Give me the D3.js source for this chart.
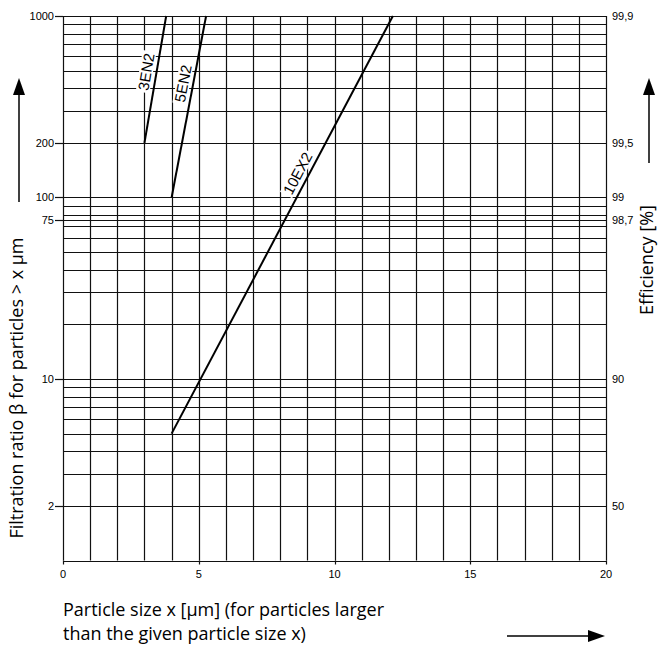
<!DOCTYPE html>
<html><head><meta charset="utf-8">
<script src="https://cdn.jsdelivr.net/npm/d3@7"></script>
<style>body{margin:0;background:#fff}svg{display:block}</style>
</head><body>
<svg id="c" width="659" height="646"></svg>
<script>
const xTicks = [0, 5, 10, 15, 20];
const xGrid = d3.range(0, 21, 1);
const yGrid = [1,2,3,4,5,6,7,8,9,10,20,30,40,50,60,70,75,80,90,100,200,300,400,500,600,700,800,900,1000];
const yTickValues = [1000, 200, 100, 75, 10, 2];
const yTickLabels = ["1000", "200", "100", "75", "10", "2"];
const effLabels = ["99,9", "99,5", "99", "98,7", "90", "50"];
const seriesNames = ["3EN2", "5EN2", "10EX2"];
const series3EN2 = [[3, 200], [3.8, 1000]];
const series5EN2 = [[4, 100], [5.27, 1000]];
const series10EX2 = [[4, 5], [12.15, 1000]];
const labelPos = [[3.06, 493], [4.42, 425], [8.64, 136]];

const svg = d3.select("#c");
const x = d3.scaleLinear().domain([0, 20]).range([63, 606]);
const y = d3.scaleLog().domain([1, 1000]).range([560.5, 16]);
const tickFont = "Liberation Sans, Arial, sans-serif";
const titleFont = "Open Sans, Noto Sans, sans-serif";

const g = svg.append("g");
// grid
g.selectAll("line.h").data(yGrid).join("line")
  .attr("x1", x(0)).attr("x2", x(20))
  .attr("y1", d => Math.round(y(d)) + 0.5).attr("y2", d => Math.round(y(d)) + 0.5)
  .attr("stroke", "#111").attr("stroke-width", 1.2);
g.selectAll("line.v").data(xGrid).join("line")
  .attr("y1", y(1)).attr("y2", y(1000))
  .attr("x1", d => Math.round(x(d)) + 0.5).attr("x2", d => Math.round(x(d)) + 0.5)
  .attr("stroke", "#111").attr("stroke-width", 1.2);

// left ticks + labels
g.selectAll("line.lt").data(yTickValues).join("line")
  .attr("x1", x(0) - 8).attr("x2", x(0))
  .attr("y1", d => Math.round(y(d)) + 0.5).attr("y2", d => Math.round(y(d)) + 0.5)
  .attr("stroke", "#111").attr("stroke-width", 1.2);
g.selectAll("text.lt").data(yTickValues).join("text")
  .attr("x", 54).attr("y", d => y(d)).attr("dy", "0.35em")
  .attr("text-anchor", "end").attr("font-family", tickFont).attr("font-size", 11)
  .text((d, i) => yTickLabels[i]);
// right labels
g.selectAll("text.rt").data(yTickValues).join("text")
  .attr("x", 612).attr("y", d => y(d)).attr("dy", "0.35em")
  .attr("text-anchor", "start").attr("font-family", tickFont).attr("font-size", 11)
  .text((d, i) => effLabels[i]);
// x ticks
g.selectAll("line.xt").data(xTicks).join("line")
  .attr("x1", d => Math.round(x(d)) + 0.5).attr("x2", d => Math.round(x(d)) + 0.5)
  .attr("y1", y(1)).attr("y2", y(1) + 4)
  .attr("stroke", "#111").attr("stroke-width", 1.2);
g.selectAll("text.xt").data(xTicks).join("text")
  .attr("x", d => x(d)).attr("y", 578)
  .attr("text-anchor", "middle").attr("font-family", tickFont).attr("font-size", 11)
  .text(d => d);

// curves
const line = d3.line().x(d => x(d[0])).y(d => y(d[1]));
const allSeries = [series3EN2, series5EN2, series10EX2];
g.selectAll("path.s").data(allSeries).join("path")
  .attr("d", line).attr("fill", "none").attr("stroke", "#000").attr("stroke-width", 2);

// series labels rotated along lines
allSeries.forEach((s, i) => {
  const x0 = x(s[0][0]), y0 = y(s[0][1]), x1 = x(s[1][0]), y1 = y(s[1][1]);
  const ang = Math.atan2(y1 - y0, x1 - x0) * 180 / Math.PI;
  const lg = g.append("g")
    .attr("transform", `translate(${x(labelPos[i][0])},${y(labelPos[i][1])}) rotate(${ang})`);
  const fs = 15;
  const t = lg.append("text").attr("text-anchor", "middle").attr("dy", "0.36em")
    .attr("font-family", tickFont).attr("font-size", fs).text(seriesNames[i]);
  const bb = t.node().getBBox();
  lg.insert("rect", "text").attr("x", bb.x - 2).attr("y", -fs * 0.36 - 1.5)
    .attr("width", bb.width + 4).attr("height", fs * 0.72 + 3).attr("fill", "#fff");
});

// titles
svg.append("text").attr("transform", "translate(23,388) rotate(-90)")
  .attr("text-anchor", "middle").attr("font-family", titleFont).attr("font-size", 18)
  .text("Filtration ratio β for particles > x µm");
svg.append("text").attr("transform", "translate(653,260) rotate(-90)")
  .attr("text-anchor", "middle").attr("font-family", titleFont).attr("font-size", 18)
  .text("Efficiency [%]");
const bt = svg.append("text").attr("font-family", titleFont).attr("font-size", 18);
bt.append("tspan").attr("x", 63).attr("y", 616).text("Particle size x [µm] (for particles larger");
bt.append("tspan").attr("x", 63).attr("y", 640).text("than the given particle size x)");

// arrows
const ar = svg.append("g").attr("stroke", "#000").attr("fill", "#000");
ar.append("line").attr("x1", 19).attr("x2", 19).attr("y1", 202).attr("y2", 94).attr("stroke-width", 1.5);
ar.append("path").attr("d", "M13,95 L25,95 L19,78 Z").attr("stroke", "none");
ar.append("line").attr("x1", 649).attr("x2", 649).attr("y1", 163).attr("y2", 94).attr("stroke-width", 1.5);
ar.append("path").attr("d", "M643,95 L655,95 L649,78 Z").attr("stroke", "none");
ar.append("line").attr("x1", 507).attr("x2", 589).attr("y1", 636).attr("y2", 636).attr("stroke-width", 1.5);
ar.append("path").attr("d", "M588,630 L588,642 L605,636 Z").attr("stroke", "none");
</script>
</body></html>
